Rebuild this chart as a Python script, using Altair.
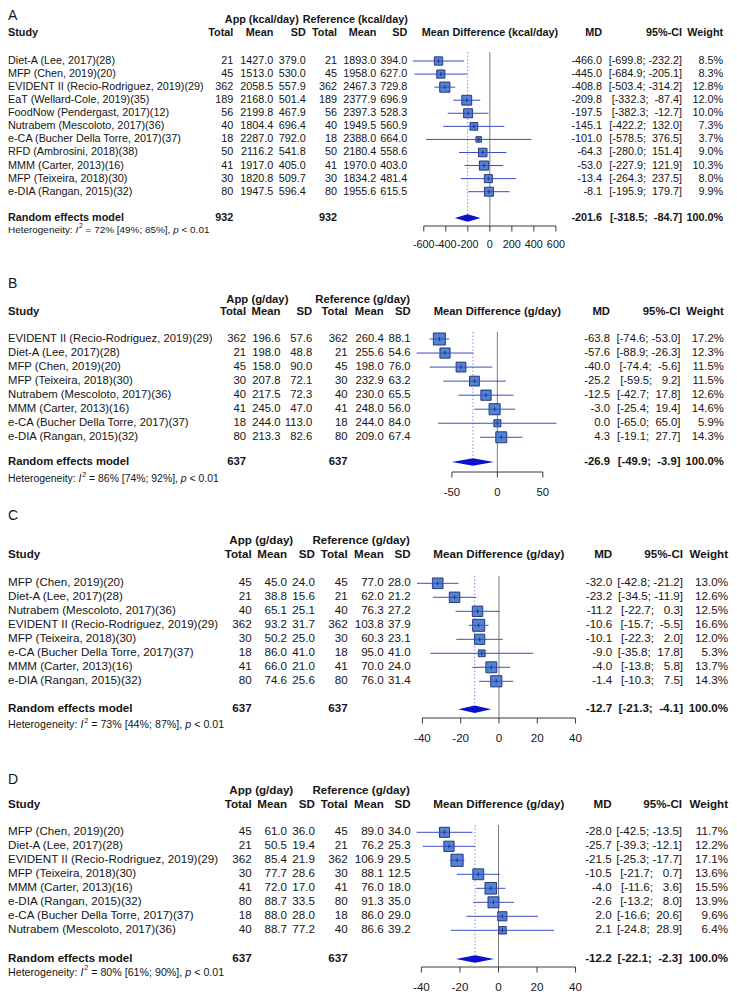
import altair as alt
import pandas as pd

FONT = "Liberation Sans"
TXT = "#151515"
SQ_FILL = "#5384d4"
SQ_STROKE = "#1c2a70"
LINE_C = "#3b4cc0"
DIAM_C = "#0a12cc"
DOT_C = "#9090dd"
ZERO_C = "#7a7a7a"
AXIS_C = "#3a3a3a"
W, H = 721, 986
SX = 721 / 733.0
NB = "\u00a0"
LEFT = 3  # reference x of left-aligned texts


def cx(x):
    return round(max((x - 3.0) * SX, 0.0), 2)


def cy(y):
    return round(y - 8.0, 2)


# ---------------- Panel A : energy ----------------
A_studies = ["Diet-A (Lee, 2017)(28)", "MFP (Chen, 2019)(20)", "EVIDENT II (Recio-Rodriguez, 2019)(29)",
             "EaT (Wellard-Cole, 2019)(35)", "FoodNow (Pendergast, 2017)(12)", "Nutrabem (Mescoloto, 2017)(36)",
             "e-CA (Bucher Della Torre, 2017)(37)", "RFD (Ambrosini, 2018)(38)", "MMM (Carter, 2013)(16)",
             "MFP (Teixeira, 2018)(30)", "e-DIA (Rangan, 2015)(32)"]
A_n = [21, 45, 362, 189, 56, 40, 18, 50, 41, 30, 80]
A_app_mean = [1427.0, 1513.0, 2058.5, 2168.0, 2199.8, 1804.4, 2287.0, 2116.2, 1917.0, 1820.8, 1947.5]
A_app_sd = [379.0, 530.0, 557.9, 501.4, 467.9, 696.4, 792.0, 541.8, 405.0, 509.7, 596.4]
A_ref_mean = [1893.0, 1958.0, 2467.3, 2377.9, 2397.3, 1949.5, 2388.0, 2180.4, 1970.0, 1834.2, 1955.6]
A_ref_sd = [394.0, 627.0, 729.8, 696.9, 528.3, 560.9, 664.0, 558.6, 403.0, 481.4, 615.5]
A_md = [-466.0, -445.0, -408.8, -209.8, -197.5, -145.1, -101.0, -64.3, -53.0, -13.4, -8.1]
A_lo = [-699.8, -684.9, -503.4, -332.3, -382.3, -422.2, -578.5, -280.0, -227.9, -264.3, -195.9]
A_hi = [-232.2, -205.1, -314.2, -87.4, -12.7, 132.0, 376.5, 151.4, 121.9, 237.5, 179.7]
A_wt = [8.5, 8.3, 12.8, 12.0, 10.0, 7.3, 3.7, 9.0, 10.3, 8.0, 9.9]
A_pooled = [-201.6, -318.5, -84.7]
A_het = ["72%", "49%", "85%"]
A_ticks = [-600, -400, -200, 0, 200, 400, 600]
A_unit = "kcal/day"
A_total = 932

# ---------------- Panel B ----------------
B_studies = ["EVIDENT II (Recio-Rodriguez, 2019)(29)", "Diet-A (Lee, 2017)(28)", "MFP (Chen, 2019)(20)",
             "MFP (Teixeira, 2018)(30)", "Nutrabem (Mescoloto, 2017)(36)", "MMM (Carter, 2013)(16)",
             "e-CA (Bucher Della Torre, 2017)(37)", "e-DIA (Rangan, 2015)(32)"]
B_n = [362, 21, 45, 30, 40, 41, 18, 80]
B_app_mean = [196.6, 198.0, 158.0, 207.8, 217.5, 245.0, 244.0, 213.3]
B_app_sd = [57.6, 48.8, 90.0, 72.1, 72.3, 47.0, 113.0, 82.6]
B_ref_mean = [260.4, 255.6, 198.0, 232.9, 230.0, 248.0, 244.0, 209.0]
B_ref_sd = [88.1, 54.6, 76.0, 63.2, 65.5, 56.0, 84.0, 67.4]
B_md = [-63.8, -57.6, -40.0, -25.2, -12.5, -3.0, 0.0, 4.3]
B_lo = [-74.6, -88.9, -74.4, -59.5, -42.7, -25.4, -65.0, -19.1]
B_hi = [-53.0, -26.3, -5.6, 9.2, 17.8, 19.4, 65.0, 27.7]
B_wt = [17.2, 12.3, 11.5, 11.5, 12.6, 14.6, 5.9, 14.3]
B_pooled = [-26.9, -49.9, -3.9]
B_het = ["86%", "74%", "92%"]
B_ticks = [-50, 0, 50]
B_unit = "g/day"
B_total = 637

# ---------------- Panel C ----------------
C_studies = ["MFP (Chen, 2019)(20)", "Diet-A (Lee, 2017)(28)", "Nutrabem (Mescoloto, 2017)(36)",
             "EVIDENT II (Recio-Rodriguez, 2019)(29)", "MFP (Teixeira, 2018)(30)",
             "e-CA (Bucher Della Torre, 2017)(37)", "MMM (Carter, 2013)(16)", "e-DIA (Rangan, 2015)(32)"]
C_n = [45, 21, 40, 362, 30, 18, 41, 80]
C_app_mean = [45.0, 38.8, 65.1, 93.2, 50.2, 86.0, 66.0, 74.6]
C_app_sd = [24.0, 15.6, 25.1, 31.7, 25.0, 41.0, 21.0, 25.6]
C_ref_mean = [77.0, 62.0, 76.3, 103.8, 60.3, 95.0, 70.0, 76.0]
C_ref_sd = [28.0, 21.2, 27.2, 37.9, 23.1, 41.0, 24.0, 31.4]
C_md = [-32.0, -23.2, -11.2, -10.6, -10.1, -9.0, -4.0, -1.4]
C_lo = [-42.8, -34.5, -22.7, -15.7, -22.3, -35.8, -13.8, -10.3]
C_hi = [-21.2, -11.9, 0.3, -5.5, 2.0, 17.8, 5.8, 7.5]
C_wt = [13.0, 12.6, 12.5, 16.6, 12.0, 5.3, 13.7, 14.3]
C_pooled = [-12.7, -21.3, -4.1]
C_het = ["73%", "44%", "87%"]
C_ticks = [-40, -20, 0, 20, 40]
C_unit = "g/day"
C_total = 637

# ---------------- Panel D ----------------
D_studies = ["MFP (Chen, 2019)(20)", "Diet-A (Lee, 2017)(28)", "EVIDENT II (Recio-Rodriguez, 2019)(29)",
             "MFP (Teixeira, 2018)(30)", "MMM (Carter, 2013)(16)", "e-DIA (Rangan, 2015)(32)",
             "e-CA (Bucher Della Torre, 2017)(37)", "Nutrabem (Mescoloto, 2017)(36)"]
D_n = [45, 21, 362, 30, 41, 80, 18, 40]
D_app_mean = [61.0, 50.5, 85.4, 77.7, 72.0, 88.7, 88.0, 88.7]
D_app_sd = [36.0, 19.4, 21.9, 28.6, 17.0, 33.5, 28.0, 77.2]
D_ref_mean = [89.0, 76.2, 106.9, 88.1, 76.0, 91.3, 86.0, 86.6]
D_ref_sd = [34.0, 25.3, 29.5, 12.5, 18.0, 35.0, 29.0, 39.2]
D_md = [-28.0, -25.7, -21.5, -10.5, -4.0, -2.6, 2.0, 2.1]
D_lo = [-42.5, -39.3, -25.3, -21.7, -11.6, -13.2, -16.6, -24.8]
D_hi = [-13.5, -12.1, -17.7, 0.7, 3.6, 8.0, 20.6, 28.9]
D_wt = [11.7, 12.2, 17.1, 13.6, 15.5, 13.9, 9.6, 6.4]
D_pooled = [-12.2, -22.1, -2.3]
D_het = ["80%", "61%", "90%"]
D_ticks = [-40, -20, 0, 20, 40]
D_unit = "g/day"
D_total = 637

# ---------------- layout (reference pixel positions) ----------------
LAYOUT = {
    "A": dict(letter=9, h1=20, h2=33, row0=61, step=13.07, re=218, het=230, axis=226, lab=245, ztop=52,
              fs=11.0, n=232, am=272.7, asd=305.7, rn=337.5, rm=377.5, rsd=409, md=607, ci=688.3, w=730,
              app_c=261, ref_c=356, fx0=425.7, fx1=560, md_c=493, k=2.9),
    "B": dict(letter=284, h1=300, h2=312, row0=339, step=14.04, re=462, het=479, axis=472, lab=493, ztop=332,
              fs=11.5, n=245, am=280, asd=312.3, rn=348.3, rm=385, rsd=412.3, md=615, ci=686.7, w=730.7,
              app_c=256.5, ref_c=363.6, fx0=454.3, fx1=546.7, md_c=500.5, k=2.95),
    "C": dict(letter=516, h1=541, h2=555, row0=583.3, step=14.0, re=709.3, het=725, axis=718, lab=738.5, ztop=576,
              fs=11.8, n=250.7, am=286.7, asd=315, rn=348.3, rm=385, rsd=412.3, md=617.3, ci=689.3, w=735,
              app_c=260.5, ref_c=362, fx0=424.3, fx1=580, md_c=502, k=3.0),
    "D": dict(letter=780, h1=791, h2=804.5, row0=832.3, step=14.0, re=959, het=972.5, axis=967, lab=988, ztop=825,
              fs=11.8, n=250.7, am=286.7, asd=315, rn=348.3, rm=385, rsd=412.3, md=616.7, ci=688.3, w=735,
              app_c=260.5, ref_c=362, fx0=423.3, fx1=580, md_c=502, k=3.0),
}

AW = {' ': 278, NB: 278, '%': 889, '(': 333, ')': 333, ',': 278, '-': 333, '.': 278, ':': 278, ';': 278,
      '<': 584, '=': 584, '[': 278, ']': 278, 'H': 722, 'I': 278, 'e': 556, 't': 278, 'r': 333, 'o': 556,
      'g': 556, 'n': 556, 'i': 222, 'y': 500, 'p': 556}
for _d in "0123456789":
    AW[_d] = 556


def tw(s, fs):
    return sum(AW.get(c, 556) for c in s) * fs / 1000.0


def label(text, x, y, fs, align="left", weight="normal", style="normal", baseline="middle"):
    return alt.Chart(pd.DataFrame({"t": [text]})).mark_text(
        align=align, baseline=baseline, font=FONT, fontSize=fs, fontWeight=weight,
        fontStyle=style, color=TXT).encode(text="t:N", x=alt.value(x), y=alt.value(y))


def fmt_ci(los, his):
    ls = [f"{v:.1f}" for v in los]
    hs = [f"{v:.1f}" for v in his]
    wl = max(len(a) for a in ls)
    wh = max(len(b) for b in hs)
    return ["[" + NB * (wl - len(a)) + a + "; " + NB * (wh - len(b)) + b + "]" for a, b in zip(ls, hs)]


def panel(key, studies, n, am, asd, rm, rsd, md, lo, hi, wt, pooled, het, ticks, unit, total):
    L = LAYOUT[key]
    fs = round(L["fs"] * SX, 2)
    m = len(studies)
    ys = alt.Scale(domain=[0, m - 1], range=[cy(L["row0"]), cy(L["row0"] + (m - 1) * L["step"])],
                   nice=False, zero=False)
    xs = alt.Scale(domain=[ticks[0], ticks[-1]], range=[cx(L["fx0"]), cx(L["fx1"])], nice=False, zero=False)
    r_re = (L["re"] - L["row0"]) / L["step"]
    cis = fmt_ci(lo + [pooled[1]], hi + [pooled[2]])
    df = pd.DataFrame({
        "row": list(range(m)), "study": studies,
        "n": [str(v) for v in n], "am": [f"{v:.1f}" for v in am], "asd": [f"{v:.1f}" for v in asd],
        "rm": [f"{v:.1f}" for v in rm], "rsd": [f"{v:.1f}" for v in rsd],
        "md": [f"{v:.1f}" for v in md], "ci": cis[:-1], "w": [f"{v:.1f}%" for v in wt],
        "mdv": md, "lov": lo, "hiv": hi, "wt": wt,
    })
    Y = alt.Y("row:Q", scale=ys, axis=None)
    layers = []

    # ---- headers ----
    lf = 14
    layers.append(label(key, cx(LEFT), max(cy(L["letter"]) - lf * 0.5, 0.5), lf, baseline="top"))
    layers.append(label(f"App ({unit})", cx(L["app_c"]), cy(L["h1"]), fs, "center", "bold"))
    layers.append(label(f"Reference ({unit})", cx(L["ref_c"]), cy(L["h1"]), fs, "center", "bold"))
    y2 = cy(L["h2"])
    layers.append(label("Study", cx(LEFT), y2, fs, "left", "bold"))
    for txt, col in [("Total", "n"), ("Mean", "am"), ("SD", "asd"), ("Total", "rn"), ("Mean", "rm"),
                     ("SD", "rsd"), ("MD", "md"), ("95%-CI", "ci"), ("Weight", "w")]:
        layers.append(label(txt, cx(L[col]), y2, fs, "right", "bold"))
    layers.append(label(f"Mean Difference ({unit})", cx(L["md_c"]), y2, fs, "center", "bold"))

    # ---- study table ----
    def col(field, xpx, align="right"):
        return alt.Chart(df).mark_text(align=align, baseline="middle", font=FONT, fontSize=fs,
                                       color=TXT).encode(x=alt.value(cx(xpx)), y=Y, text=f"{field}:N")

    layers.append(col("study", LEFT, "left"))
    for field, key2 in [("n", "n"), ("am", "am"), ("asd", "asd"), ("n", "rn"), ("rm", "rm"),
                        ("rsd", "rsd"), ("md", "md"), ("ci", "ci"), ("w", "w")]:
        layers.append(col(field, L[key2]))

    # ---- random effects row ----
    yre = cy(L["re"])
    layers.append(label("Random effects model", cx(LEFT), yre, fs, "left", "bold"))
    layers.append(label(str(total), cx(L["n"]), yre, fs, "right", "bold"))
    layers.append(label(str(total), cx(L["rn"]), yre, fs, "right", "bold"))
    layers.append(label(f"{pooled[0]:.1f}", cx(L["md"]), yre, fs, "right", "bold"))
    layers.append(label(cis[-1], cx(L["ci"]), yre, fs, "right", "bold"))
    layers.append(label("100.0%", cx(L["w"]), yre, fs, "right", "bold"))

    # ---- heterogeneity ----
    hs = round(fs * 0.92, 2)
    yh = cy(L["het"])
    x = cx(LEFT)
    s1 = "Heterogeneity:"
    layers.append(label(s1, x, yh, hs))
    x += tw(s1 + " ", hs)
    layers.append(label("I", x, yh, hs, style="italic"))
    x += tw("I", hs) + 0.8
    ss = round(hs * 0.68, 2)
    layers.append(label("2", x, yh - 0.38 * hs, ss))
    x += tw("2", ss) + tw(" ", hs)
    s3 = f"= {het[0]} [{het[1]}; {het[2]}],"
    layers.append(label(s3, x, yh, hs))
    x += tw(s3 + " ", hs)
    layers.append(label("p", x, yh, hs, style="italic"))
    x += tw("p ", hs)
    layers.append(label("< 0.01", x, yh, hs))

    # ---- forest plot ----
    ytop = cy(L["ztop"])
    yax = cy(L["axis"])
    hh = 3.8 / L["step"]
    layers.append(alt.Chart(pd.DataFrame({"v": [0]})).mark_rule(color=ZERO_C, strokeWidth=1).encode(
        x=alt.X("v:Q", scale=xs, axis=None), y=alt.value(ytop), y2=alt.value(yax)))
    layers.append(alt.Chart(pd.DataFrame({"v": [pooled[0]]})).mark_rule(
        color=DOT_C, strokeWidth=1, strokeDash=[1.5, 2]).encode(
        x=alt.X("v:Q", scale=xs, axis=None), y=alt.value(ytop), y2=alt.value(cy(L["re"] - 3.8))))
    k2 = (L["k"] * SX) ** 2
    layers.append(alt.Chart(df).mark_square(filled=True, fill=SQ_FILL, stroke=SQ_STROKE, strokeWidth=0.9,
                                            opacity=1).encode(
        x=alt.X("mdv:Q", scale=xs, axis=None), y=Y,
        size=alt.Size("wt:Q", scale=alt.Scale(domain=[0, 100], range=[0, 100 * k2]), legend=None)))
    layers.append(alt.Chart(df).mark_rule(color=LINE_C, strokeWidth=1).encode(
        x=alt.X("lov:Q", scale=xs, axis=None), x2="hiv:Q", y=Y))
    layers.append(alt.Chart(df).mark_point(shape="M0,-1L0,1", filled=False, color=SQ_STROKE, strokeWidth=1,
                                           size=14, opacity=1).encode(
        x=alt.X("mdv:Q", scale=xs, axis=None), y=Y))
    dd = pd.DataFrame({"x": [pooled[1], pooled[0], pooled[2]], "f": [0, 1, 0]})
    layers.append(alt.Chart(dd).transform_calculate(
        ya=f"{r_re} - {hh} * datum.f", yb=f"{r_re} + {hh} * datum.f").mark_area(
        color=DIAM_C, opacity=1, orient="vertical").encode(
        x=alt.X("x:Q", scale=xs, axis=None), y=alt.Y("ya:Q", scale=ys, axis=None), y2="yb:Q"))

    # ---- axis ----
    layers.append(alt.Chart(pd.DataFrame({"a": [ticks[0]], "b": [ticks[-1]]})).mark_rule(
        color=AXIS_C, strokeWidth=1).encode(
        x=alt.X("a:Q", scale=xs, axis=None), x2="b:Q", y=alt.value(yax)))
    tdf = pd.DataFrame({"t": ticks, "lab": [str(t) for t in ticks]})
    layers.append(alt.Chart(tdf).mark_rule(color=AXIS_C, strokeWidth=1).encode(
        x=alt.X("t:Q", scale=xs, axis=None), y=alt.value(yax), y2=alt.value(yax + 5.5)))
    layers.append(alt.Chart(tdf).mark_text(align="center", baseline="middle", font=FONT, fontSize=fs,
                                           color=TXT).encode(
        x=alt.X("t:Q", scale=xs, axis=None), y=alt.value(cy(L["lab"])), text="lab:N"))
    return layers


all_layers = []
all_layers += panel("A", A_studies, A_n, A_app_mean, A_app_sd, A_ref_mean, A_ref_sd, A_md, A_lo, A_hi, A_wt,
                    A_pooled, A_het, A_ticks, A_unit, A_total)
all_layers += panel("B", B_studies, B_n, B_app_mean, B_app_sd, B_ref_mean, B_ref_sd, B_md, B_lo, B_hi, B_wt,
                    B_pooled, B_het, B_ticks, B_unit, B_total)
all_layers += panel("C", C_studies, C_n, C_app_mean, C_app_sd, C_ref_mean, C_ref_sd, C_md, C_lo, C_hi, C_wt,
                    C_pooled, C_het, C_ticks, C_unit, C_total)
all_layers += panel("D", D_studies, D_n, D_app_mean, D_app_sd, D_ref_mean, D_ref_sd, D_md, D_lo, D_hi, D_wt,
                    D_pooled, D_het, D_ticks, D_unit, D_total)

chart = alt.layer(*all_layers).resolve_scale(
    x="independent", y="independent", size="independent"
).properties(
    width=W, height=H, padding=0, autosize=alt.AutoSizeParams(type="none")
).configure_view(stroke=None)

chart.save("out.html", embed_options={"renderer": "svg", "actions": False})
